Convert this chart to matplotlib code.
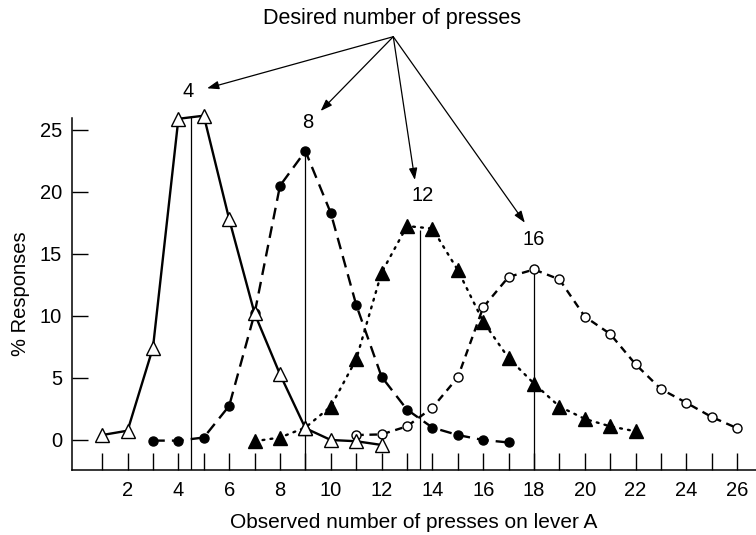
import matplotlib
matplotlib.use("Agg")
import matplotlib.pyplot as plt

plt.rcParams['font.family'] = ['Liberation Sans', 'DejaVu Sans']

# ---- data ----
x4 = [1, 2, 3, 4, 5, 6, 7, 8, 9, 10, 11, 12]
y4 = [0.4, 0.75, 7.45, 25.9, 26.15, 17.8, 10.2, 5.3, 0.95, 0.0, -0.1, -0.4]

x8 = [3, 4, 5, 6, 7, 8, 9, 10, 11, 12, 13, 14, 15, 16, 17]
y8 = [-0.05, -0.05, 0.2, 2.75, 10.2, 20.5, 23.3, 18.3, 10.9, 5.1, 2.45, 1.0, 0.4, 0.0, -0.2]

x12 = [7, 8, 9, 10, 11, 12, 13, 14, 15, 16, 17, 18, 19, 20, 21, 22]
y12 = [-0.1, 0.2, 1.0, 2.7, 6.5, 13.5, 17.25, 17.05, 13.7, 9.55, 6.6, 4.55, 2.7, 1.7, 1.1, 0.7]

x16 = [11, 12, 13, 14, 15, 16, 17, 18, 19, 20, 21, 22, 23, 24, 25, 26]
y16 = [0.4, 0.45, 1.1, 2.6, 5.05, 10.7, 13.15, 13.75, 12.95, 9.95, 8.55, 6.1, 4.1, 3.0, 1.85, 0.95]

vline_x = [4.5, 9, 13.5, 18]
vline_top = [26.1, 23.3, 16.9, 13.6]

desired_labels = ["4", "8", "12", "16"]
xtick_major = [2, 4, 6, 8, 10, 12, 14, 16, 18, 20, 22, 24, 26]
xtick_minor = [1, 3, 5, 7, 9, 11, 13, 15, 17, 19, 21, 23, 25]
ytick = [0, 5, 10, 15, 20, 25]

# ---- figure ----
W, H = 756, 535
fig = plt.figure(figsize=(W / 100, H / 100), dpi=100)
ax = fig.add_axes([71.7 / W, 65 / H, (W - 71.7) / W, (470 - 118.3) / H])
XMIN, XMAX = -0.2, 26.74
YMIN, YMAX = -2.42, 25.94
ax.set_xlim(XMIN, XMAX)
ax.set_ylim(YMIN, YMAX)

for s in ['top', 'right']:
    ax.spines[s].set_visible(False)
for s in ['left', 'bottom']:
    ax.spines[s].set_linewidth(1.1)

ax.vlines(vline_x, YMIN, vline_top, colors='black', linewidth=0.9, zorder=1)

lw = 1.7
ax.plot(x4, y4, color='black', linewidth=lw, linestyle='-', marker='^',
        markersize=9.5, markerfacecolor='white', markeredgecolor='black',
        markeredgewidth=1.0, zorder=4, clip_on=False)
ax.plot(x8, y8, color='black', linewidth=lw, linestyle=(0, (5, 3)), marker='o',
        markersize=6.5, markerfacecolor='black', markeredgecolor='black',
        zorder=3, clip_on=False)
ax.plot(x12, y12, color='black', linewidth=lw, linestyle=(0, (0.8, 2.6)), marker='^',
        markersize=9.5, markerfacecolor='black', markeredgecolor='black',
        dash_capstyle='round', zorder=3, clip_on=False)
ax.plot(x16, y16, color='black', linewidth=lw, linestyle=(0, (3.2, 2.4)), marker='o',
        markersize=6.5, markerfacecolor='white', markeredgecolor='black',
        markeredgewidth=1.0, zorder=3, clip_on=False)

FS = 14.5
ax.set_xticks(xtick_major)
ax.set_xticklabels([str(v) for v in xtick_major])
ax.set_xticks(xtick_minor, minor=True)
ax.set_yticks(ytick)
ax.set_yticklabels([str(v) for v in ytick])
ax.tick_params(axis='x', which='both', direction='in', length=12, width=1.0,
               labelsize=FS, pad=8)
ax.tick_params(axis='y', which='both', direction='in', length=11.5, width=1.0,
               labelsize=FS, pad=7)

ax.set_xlabel("Observed number of presses on lever A", fontsize=15, labelpad=9)
ax.set_ylabel("% Responses", fontsize=14.5, labelpad=7)

# ---- annotation: desired number of presses ----
origin = (12.46, 32.52)
heads = [(5.13, 28.36), (9.60, 26.53), (13.31, 20.97), (17.64, 17.52)]
label_pos = [(4.39, 28.09), (9.09, 25.59), (13.60, 19.68), (17.97, 16.13)]

ax.text(12.42, 34.0, "Desired number of presses", fontsize=15.5,
        ha='center', va='center', clip_on=False)
for (hx, hy) in heads:
    ax.annotate("", xy=(hx, hy), xytext=origin, annotation_clip=False,
                arrowprops=dict(arrowstyle='-|>,head_length=0.7,head_width=0.25',
                                color='black', linewidth=0.9,
                                shrinkA=0, shrinkB=0))
for (lx, ly), t in zip(label_pos, desired_labels):
    ax.text(lx, ly, t, fontsize=FS, ha='center', va='center', clip_on=False)

fig.savefig("out.png", dpi=100)
